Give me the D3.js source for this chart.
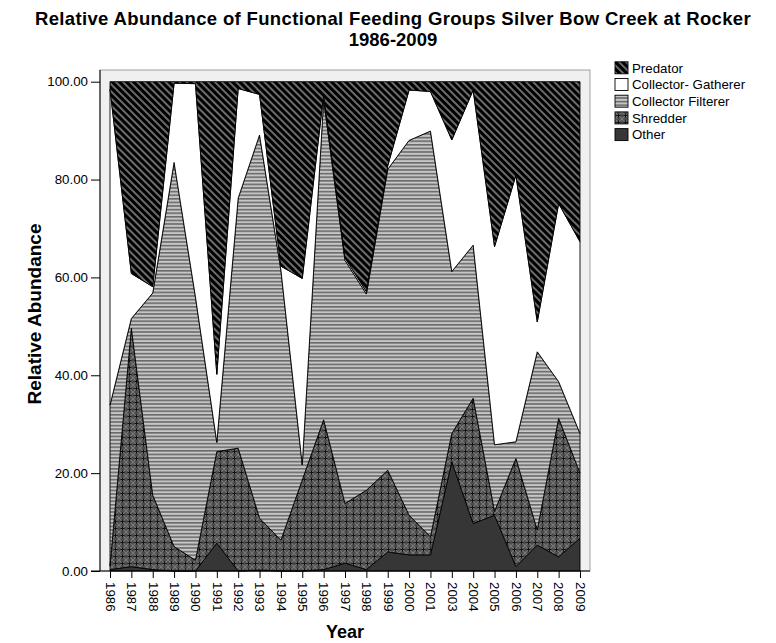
<!DOCTYPE html>
<html>
<head>
<meta charset="utf-8">
<script src="https://cdn.jsdelivr.net/npm/d3@7"></script>
<style>
  html, body { margin: 0; padding: 0; background: #fff; }
  svg { display: block; font-family: "Liberation Sans", Arial, sans-serif; }
</style>
</head>
<body>
<svg id="chart" width="776" height="643"></svg>
<script>
// Sampling years (no sample in 2002)
const years = ["1986","1987","1988","1989","1990","1991","1992","1993","1994","1995",
  "1996","1997","1998","1999","2000","2001","2003","2004","2005","2006","2007","2008","2009"];

// Relative abundance (%) of each functional feeding group per year
const other     = [0.3, 0.9, 0.3, 0.0, 0.0, 5.7, 0.0, 0.2, 0.0, 0.0, 0.3, 1.6, 0.3, 3.9, 3.3, 3.3, 22.3, 9.7, 11.4, 0.9, 5.3, 2.9, 6.7];
const shredder  = [0.7, 48.7, 15.2, 5.0, 2.2, 18.7, 25.1, 10.6, 6.3, 18.6, 30.6, 12.2, 16.2, 16.7, 8.1, 3.7, 5.8, 25.6, 0.8, 22.1, 3.1, 28.3, 13.3];
const filterer  = [32.9, 2.0, 41.3, 78.5, 53.8, 1.9, 51.1, 78.3, 55.2, 3.1, 65.4, 49.7, 40.1, 61.5, 76.6, 82.9, 33.1, 31.3, 13.6, 3.4, 36.4, 7.5, 8.1];
const gatherer  = [64.6, 9.2, 1.3, 16.2, 43.6, 13.9, 22.4, 8.3, 0.8, 38.1, 1.0, 0.5, 0.5, 0.7, 10.3, 8.1, 26.9, 31.7, 40.5, 54.5, 6.1, 36.4, 39.2];
const predator  = [1.5, 39.2, 41.9, 0.3, 0.4, 59.8, 1.4, 2.6, 37.7, 40.2, 2.7, 36.0, 42.9, 17.2, 1.7, 2.0, 11.9, 1.7, 33.7, 19.1, 49.1, 24.9, 32.7];

const yTicks = [0, 20, 40, 60, 80, 100];

// Stack order, bottom to top
const groups = ["Other", "Shredder", "Collector Filterer", "Collector- Gatherer", "Predator"];
const seriesValues = [other, shredder, filterer, gatherer, predator];
// Legend order, top to bottom
const legendOrder = ["Predator", "Collector- Gatherer", "Collector Filterer", "Shredder", "Other"];

const rows = years.map((yr, i) => {
  const r = { year: yr };
  groups.forEach((g, k) => { r[g] = seriesValues[k][i]; });
  return r;
});

const svg = d3.select("#chart");
const defs = svg.append("defs");

// Fill patterns for each group
const fills = {};
(function buildPatterns() {
  // Predator: black with grey diagonal stripes
  const p1 = defs.append("pattern").attr("id", "pat-pred")
    .attr("patternUnits", "userSpaceOnUse").attr("width", 5).attr("height", 5)
    .attr("patternTransform", "rotate(45)");
  p1.append("rect").attr("width", 5).attr("height", 5).attr("fill", "#000");
  p1.append("rect").attr("y", 0).attr("width", 5).attr("height", 2).attr("fill", "#6c6c6c");
  fills["Predator"] = "url(#pat-pred)";

  fills["Collector- Gatherer"] = "#ffffff";

  // Collector Filterer: horizontal grey stripes
  const p3 = defs.append("pattern").attr("id", "pat-filt")
    .attr("patternUnits", "userSpaceOnUse").attr("width", 8).attr("height", 3.6);
  p3.append("rect").attr("width", 8).attr("height", 3.6).attr("fill", "#c6c6c6");
  p3.append("rect").attr("y", 0).attr("width", 8).attr("height", 1.6).attr("fill", "#6a6a6a");
  fills["Collector Filterer"] = "url(#pat-filt)";

  // Shredder: dark grey lattice with small black crosses
  const s = 7;
  const p4 = defs.append("pattern").attr("id", "pat-shred")
    .attr("patternUnits", "userSpaceOnUse").attr("width", s).attr("height", s);
  p4.append("rect").attr("width", s).attr("height", s).attr("fill", "#4c4c4c");
  p4.append("path").attr("d", `M0,0L${s},${s}M${s},0L0,${s}`)
    .attr("stroke", "#7a7a7a").attr("stroke-width", 1.1);
  p4.append("path").attr("d", `M${s/2},${s/2-2}V${s/2+2}M${s/2-2},${s/2}H${s/2+2}`)
    .attr("stroke", "#111").attr("stroke-width", 1.2);
  fills["Shredder"] = "url(#pat-shred)";

  fills["Other"] = "#363636";
})();

// Layout
const panel = { left: 100, top: 70, right: 590, bottom: 571 };
const plot = { left: 110, right: 580, top: 81.7, bottom: 571 };

const x = d3.scalePoint().domain(years).range([plot.left, plot.right]).padding(0);
const y = d3.scaleLinear().domain([0, 100]).range([plot.bottom, plot.top]);

// Panel background
svg.append("rect")
  .attr("x", panel.left).attr("y", panel.top)
  .attr("width", panel.right - panel.left).attr("height", panel.bottom - panel.top)
  .attr("fill", "#f0f0f0").attr("stroke", "#8a8a8a").attr("stroke-width", 0.8);

// Stacked areas
const stacked = d3.stack().keys(groups)(rows);
const area = d3.area()
  .x(d => x(d.data.year))
  .y0(d => y(d[0]))
  .y1(d => y(d[1]));

svg.append("g").selectAll("path")
  .data(stacked)
  .join("path")
  .attr("d", area)
  .attr("fill", d => fills[d.key])
  .attr("stroke", "#000")
  .attr("stroke-width", 0.9)
  .attr("stroke-linejoin", "miter");

// Y axis
const yAxis = svg.append("g")
  .attr("transform", `translate(${panel.left},0)`)
  .call(d3.axisLeft(y).tickValues(yTicks).tickFormat(d3.format(".2f")).tickSize(9).tickPadding(3));
yAxis.select(".domain").remove();
yAxis.selectAll("line").attr("stroke", "#000");
yAxis.selectAll("text").attr("font-size", "13.3px").attr("fill", "#000")
  .attr("font-family", "'Liberation Sans', Arial, sans-serif");

// X axis
const xAxis = svg.append("g")
  .attr("transform", `translate(0,${plot.bottom})`)
  .call(d3.axisBottom(x).tickSize(7).tickPadding(0));
xAxis.select(".domain").remove();
xAxis.selectAll("line").attr("stroke", "#000");
xAxis.selectAll("text")
  .attr("font-size", "13.3px").attr("fill", "#000")
  .attr("font-family", "'Liberation Sans', Arial, sans-serif")
  .attr("text-anchor", "start")
  .attr("x", 0).attr("y", 0).attr("dy", "0.35em")
  .attr("transform", "translate(0,11) rotate(90)");

// Axis lines
svg.append("line")
  .attr("x1", panel.left).attr("x2", panel.left)
  .attr("y1", panel.top).attr("y2", panel.bottom)
  .attr("stroke", "#000").attr("stroke-width", 1);
svg.append("line")
  .attr("x1", 91).attr("x2", panel.right)
  .attr("y1", panel.bottom).attr("y2", panel.bottom)
  .attr("stroke", "#000").attr("stroke-width", 1);

// Titles (two separate lines)
svg.append("text")
  .attr("x", 393).attr("y", 24.5).attr("text-anchor", "middle")
  .attr("font-weight", "bold").attr("font-size", "18.5px")
  .attr("letter-spacing", "0.35px").attr("fill", "#000")
  .text("Relative Abundance of Functional Feeding Groups Silver Bow Creek at Rocker");
svg.append("text")
  .attr("x", 393).attr("y", 46).attr("text-anchor", "middle")
  .attr("font-weight", "bold").attr("font-size", "18.5px").attr("fill", "#000")
  .text("1986-2009");

svg.append("text")
  .attr("transform", "translate(41,314) rotate(-90)")
  .attr("text-anchor", "middle")
  .attr("font-weight", "bold").attr("font-size", "19px").attr("fill", "#000")
  .text("Relative Abundance");

svg.append("text")
  .attr("x", (plot.left + plot.right) / 2).attr("y", 638)
  .attr("text-anchor", "middle")
  .attr("font-weight", "bold").attr("font-size", "18px").attr("fill", "#000")
  .text("Year");

// Legend
const legend = svg.append("g").attr("transform", "translate(615,0)");
const rowStep = 16.7, firstRow = 67.8;
legendOrder.forEach((g, i) => {
  const cy = firstRow + i * rowStep;
  legend.append("rect")
    .attr("x", 0).attr("y", cy - 6).attr("width", 13).attr("height", 12)
    .attr("fill", fills[g]).attr("stroke", "#000").attr("stroke-width", 0.9);
  legend.append("text")
    .attr("x", 17).attr("y", cy + 4.8)
    .attr("font-size", "13.3px").attr("fill", "#000")
    .text(g);
});
</script>
</body>
</html>
